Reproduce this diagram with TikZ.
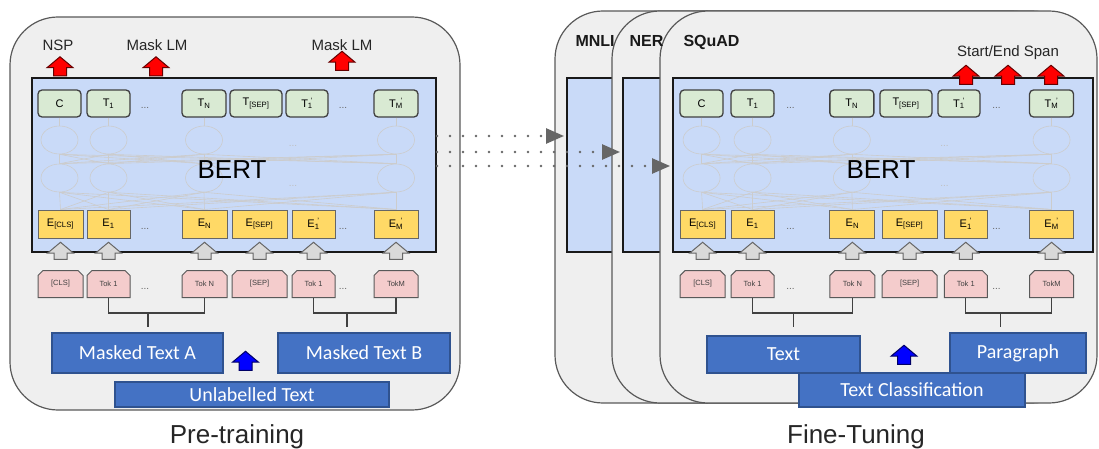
\documentclass[tikz,border=0pt]{standalone}
\usepackage{fontspec}
\setmainfont{Liberation Sans}
\setsansfont{Liberation Sans}
\newfontfamily\calibri{Carlito}
\usetikzlibrary{arrows.meta,shapes.arrows,shapes.misc,shapes.geometric}
\definecolor{cardgray}{HTML}{EFEFEF}
\definecolor{bertblue}{HTML}{C9DAF8}
\definecolor{tgreen}{HTML}{D9EAD3}
\definecolor{eyellow}{HTML}{FFD966}
\definecolor{tokpink}{HTML}{F4CCCC}
\definecolor{inblue}{HTML}{4472C4}
\definecolor{inedge}{HTML}{2F528F}
\newcommand{\pxfont}[1]{\fontsize{#1}{#1}\selectfont}
\newcommand{\primesub}[2]{#1\textsubscript{#2}\llap{\textsuperscript{'}}}

\begin{document}
\begin{tikzpicture}[
  x=1pt, y=-1pt,
  every node/.style={font=\sffamily},
  card/.style={draw=black!65, fill=cardgray, line width=1.2pt, rounded corners=48pt},
  bertbox/.style={draw=black!90, fill=bertblue, line width=2pt, minimum height=174pt, inner sep=0pt},
  tbox/.style={draw=black!75, fill=tgreen, line width=1.3pt, rounded corners=4pt, minimum height=27pt, inner sep=0pt, font=\sffamily\pxfont{11}},
  ebox/.style={draw=black!60, fill=eyellow, line width=1pt, minimum height=28pt, inner sep=0pt, font=\sffamily\pxfont{11}},
  tokbox/.style={chamfered rectangle, chamfered rectangle corners={north west,north east}, chamfered rectangle xsep=2.5pt, chamfered rectangle ysep=2.5pt, draw=black!65, fill=tokpink, line width=1pt, minimum height=27pt, inner sep=0pt, font=\sffamily\pxfont{7.5}, text=black!75},
  garrow/.style={single arrow, shape border rotate=90, draw=black!60, fill=black!15, line width=1pt, minimum width=25pt, minimum height=17pt, single arrow head extend=6.5pt, single arrow tip angle=100, inner xsep=6pt, inner ysep=0pt},
  rarrow/.style={garrow, draw=black!60!red, fill=red, minimum height=19pt},
  barrow/.style={garrow, draw=black!60!blue, fill=blue, minimum height=19pt},
  inbox/.style={draw=inedge, fill=inblue, line width=1.2pt, text=white, font=\calibri\pxfont{20}, inner sep=0pt},
  dotarrow/.style={draw=black!60, line width=2.6pt, line cap=round, dash pattern=on 0pt off 13pt, -{Triangle[length=18pt,width=15pt,fill=black!60]}, shorten >=2pt},
  joint/.style={draw=black!75, line width=1.3pt},
  net/.style={draw=black!20, line width=0.6pt},
  unit/.style={ellipse, net, minimum width=37pt, minimum height=28pt, inner sep=0pt},
  dots/.style={font=\sffamily\pxfont{10}, text=black!60},
  headtext/.style={font=\sffamily\pxfont{15}, text=black!85},
  tasktext/.style={font=\sffamily\bfseries\pxfont{16}, text=black!90},
  title/.style={font=\sffamily\pxfont{26}, text=black!85}
]
  \useasboundingbox (0,0) rectangle (1099,449);
  \draw[card] (10,17) rectangle (460,410);
  \draw[card] (555,11) rectangle (1060,403);
  \node[bertbox, minimum width=73pt] (mnli) at (603.5,165) {};
  \draw[card] (612,11) rectangle (1080,403);
  \node[bertbox, minimum width=57pt] (ner) at (651.5,165) {};
  \draw[card] (660,11) rectangle (1097,403);

  \foreach \p/\ox/\sx/\bw in {L/0/1/404, R/639.7/1.04/420} {
    \begin{scope}[shift={(\ox,0)}, xscale=\sx]
      \node[bertbox, minimum width=\bw pt] (bert-\p) at (234,165) {};
      \foreach \n/\gx/\gw/\gl/\yx/\yw/\yl/\kl in {
        1/59.5/43/C/60.5/45/{E\textsubscript{[CLS]}}/{[CLS]},
        2/108.5/43/{T\textsubscript{1}}/108.5/43/{E\textsubscript{1}}/{Tok 1},
        3/204/44/{T\textsubscript{N}}/204.5/45/{E\textsubscript{N}}/{Tok N},
        4/256/52/{T\textsubscript{[SEP]}}/259.5/55/{E\textsubscript{[SEP]}}/{[SEP]},
        5/307/42/{\primesub{T}{1}}/313.5/43/{\primesub{E}{1}}/{Tok 1},
        6/396/44/{\primesub{T}{M}}/396/44/{\primesub{E}{M}}/{TokM}} {
        \node[tbox, minimum width=\gw pt] (t\n-\p) at (\gx,103.5) {\gl};
        \node[ebox, minimum width=\yw pt] (e\n-\p) at (\yx,224) {\yl};
        \node[tokbox, minimum width=\yw pt] (k\n-\p) at (\yx,284) {\kl};
        \node[garrow] (g\n-\p) at (\yx,253.5) {};
      }
      \foreach \i/\cx in {1/59.5, 2/108.5, 3/204, 6/396} {
        \node[unit] (u\i-\p) at (\cx,140) {};
        \node[unit] (l\i-\p) at (\cx,178) {};
        \draw[net] (t\i-\p.south) -- (u\i-\p.north);
      }
      \foreach \i in {1,2,3,6}
        \foreach \j in {1,2,3,6} {
          \draw[net] (u\i-\p.south) -- (l\j-\p.north);
          \draw[net] (l\i-\p.south) -- (e\j-\p.north);
        }
      \node[dots, text=black!25] (na-\p) at (293,146) {...};
      \node[dots, text=black!25] (nb-\p) at (293,186) {...};
      \foreach \r/\ry in {g/108, e/229, k/289}
        \foreach \c/\dx in {a/145, b/343}
          \node[dots] (d\r\c-\p) at (\dx,\ry) {...};
      \node[font=\sffamily\pxfont{26}] (bt-\p) at (232,170) {BERT};
      \coordinate (ja-\p) at (148,313);
      \coordinate (sa-\p) at (148,327);
      \coordinate (jb-\p) at (347,313);
      \coordinate (sb-\p) at (347,327);
      \draw[joint] (k2-\p.south) |- (ja-\p) -| (k3-\p.south);
      \draw[joint] (ja-\p) -- (sa-\p);
      \draw[joint] (k5-\p.south) |- (jb-\p) -| (k6-\p.south);
      \draw[joint] (jb-\p) -- (sb-\p);
    \end{scope}
  }

  \node[headtext, anchor=base] (nsp) at (58,51) {NSP};
  \node[headtext, anchor=base] (mlma) at (157,51) {Mask LM};
  \node[headtext, anchor=base] (mlmb) at (342,51) {Mask LM};
  \node[rarrow] (rnsp) at (60,69) {};
  \node[rarrow] (rmlma) at (156,69) {};
  \node[rarrow] (rmlmb) at (342,63.5) {};

  \node[tasktext, anchor=base west] (tmnli) at (572,47) {MNLI};
  \node[tasktext, anchor=base west] (tner) at (626,47) {NER};
  \node[tasktext, anchor=base west] (tsquad) at (680,47) {SQuAD};
  \node[headtext, anchor=base] (span) at (1008,57) {Start/End Span};
  \node[rarrow] (rsa) at (966,77.5) {};
  \node[rarrow] (rsb) at (1008,77.5) {};
  \node[rarrow] (rsc) at (1051,77.5) {};

  \node[inbox, minimum width=171pt, minimum height=40pt] (mta) at (137.5,353) {Masked Text A};
  \node[inbox, minimum width=172pt, minimum height=40pt] (mtb) at (364,353) {Masked Text B};
  \node[inbox, minimum width=274pt, minimum height=25pt] (ult) at (252,394.5) {Unlabelled Text};
  \node[barrow] (bup-L) at (245.5,363.5) {};

  \node[inbox, minimum width=153pt, minimum height=37pt] (txt) at (783.5,354.5) {Text};
  \node[inbox, minimum width=136pt, minimum height=40pt] (para) at (1018,353) {Paragraph};
  \node[inbox, minimum width=226pt, minimum height=34pt] (tcls) at (912,390) {Text Classification};
  \node[barrow] (bup-R) at (904,357.5) {};

  \node[title, anchor=base] (pre) at (237,443) {Pre-training};
  \node[title, anchor=base] (fine) at (856,443) {Fine-Tuning};

  \draw[dotarrow] ([yshift=29pt]bert-L.east) -- ([yshift=29pt]mnli.west);
  \draw[dotarrow] ([yshift=13pt]bert-L.east) -- ([yshift=13pt]ner.west);
  \draw[dotarrow] ([yshift=-1pt]bert-L.east) -- ([yshift=-1pt]bert-R.west);
\end{tikzpicture}
\end{document}
